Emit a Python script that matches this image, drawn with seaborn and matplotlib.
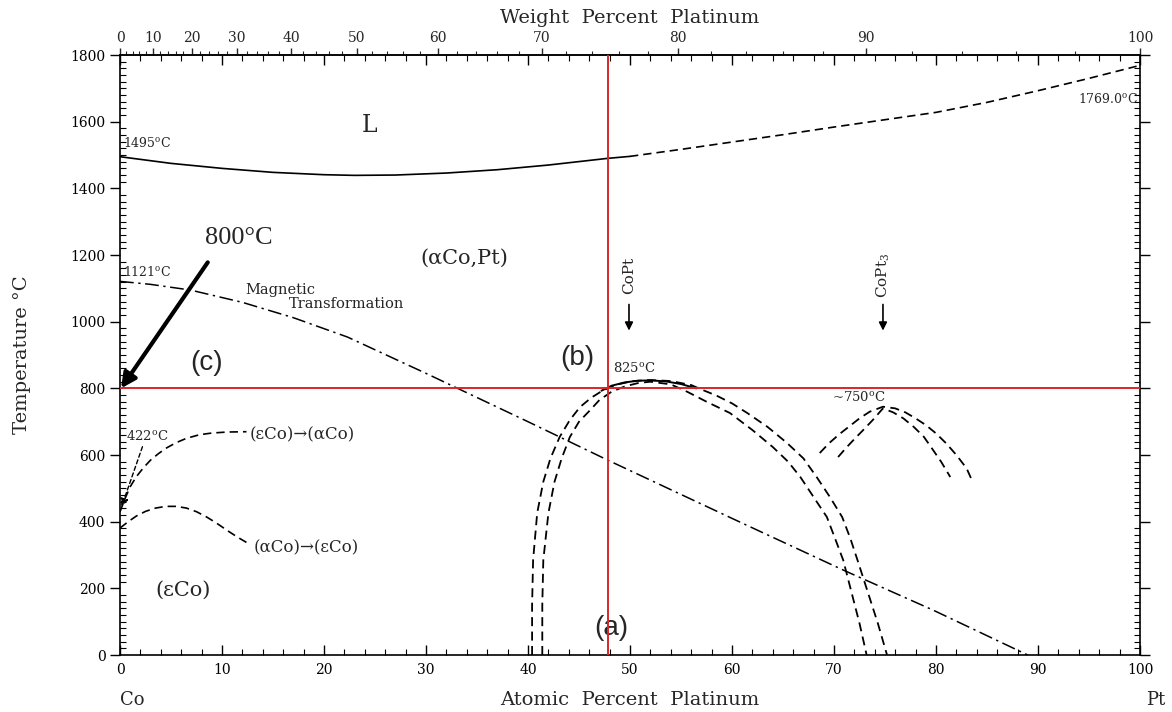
import numpy as np
import pandas as pd
import matplotlib
matplotlib.use("Agg")
import matplotlib.pyplot as plt
from matplotlib.ticker import MultipleLocator
import seaborn as sns

# ---------------- data (atomic % Pt, temperature in C) ----------------
liq_solid_x = [0, 5, 10, 15, 20, 23, 27, 32, 37, 42, 47.8, 50]
liq_solid_t = [1495, 1475, 1460, 1448, 1441, 1439, 1440, 1446, 1456, 1470, 1490, 1496]
liq_dash_x = [50, 55, 60, 65, 70, 75, 80, 85, 90, 95, 100]
liq_dash_t = [1496, 1517, 1539, 1561, 1584, 1606, 1628, 1658, 1693, 1730, 1769]

mag_x = [0, 3, 6.9, 12, 17, 22.3, 30, 40, 47.8, 60, 70.9, 79.7, 89]
mag_t = [1121, 1112, 1095, 1058, 1012, 954, 845, 700, 585, 410, 255, 135, 0]

# CoPt ordering dome, outer and inner boundaries (left foot -> top -> right foot)
dome_out_x = [40.4, 40.4, 40.5, 40.9, 41.5, 42.2, 43.1, 44.1, 45.1, 46.2, 47.4, 48.8, 50.3, 52.0,
              54.0, 56.0, 56.9, 58.5, 60.0, 61.5, 63.5, 65.4, 67.0, 68.3, 69.6, 70.8, 71.6,
              72.3, 73.3, 74.3, 75.2]
dome_out_t = [0, 150, 285, 426, 520, 590, 654, 705, 744, 772, 795, 812, 822, 825,
              822, 810, 798, 778, 755, 726, 684, 636, 590, 534, 474, 414, 350,
              285, 190, 95, 0]
dome_in_x = [41.4, 41.4, 41.5, 42.0, 42.6, 43.3, 44.1, 45.0, 46.1, 47.0, 48.2, 49.5, 50.8, 52.0,
             54.0, 55.6, 57.5, 59.8, 62.0, 64.0, 65.5, 66.7, 68.0, 69.3, 70.1, 70.9,
             71.7, 72.5, 73.2]
dome_in_t = [0, 150, 285, 426, 520, 590, 654, 700, 735, 765, 790, 806, 816, 820,
             812, 790, 760, 726, 675, 624, 580, 534, 474, 414, 350, 285,
             190, 95, 0]
dome_top_x = [47.2, 48.2, 49.5, 50.8, 52.0, 53.5, 55.0, 56.5]
dome_top_t = [793, 808, 818, 823, 824, 821, 813, 800]

# CoPt3 ordering dome
copt3_out_x = [68.6, 69.5, 70.5, 71.5, 72.5, 73.5, 74.8, 76.0, 77.0, 78.0, 79.0, 80.0, 81.0,
               82.0, 83.0, 83.6]
copt3_out_t = [606, 635, 662, 686, 710, 730, 745, 740, 728, 710, 690, 665, 635,
               600, 560, 519]
copt3_in_x = [70.4, 71.2, 72.0, 72.8, 73.8, 74.8, 75.8, 76.8, 77.8, 78.8, 79.6, 80.5, 81.4]
copt3_in_t = [594, 622, 648, 673, 705, 740, 728, 710, 685, 655, 620, 580, 534]

eps_alpha_x = [0, 0.5, 1.0, 1.6, 2.3, 3.0, 3.8, 4.6, 5.5, 6.5, 7.8, 9.0, 10.5, 12.4]
eps_alpha_t = [430, 470, 505, 535, 562, 585, 605, 622, 637, 650, 661, 666, 669, 670]
alpha_eps_x = [0, 0.8, 1.6, 2.5, 3.5, 4.5, 5.5, 6.5, 7.5, 8.5, 9.5, 10.5, 11.5, 12.5]
alpha_eps_t = [381, 400, 417, 431, 441, 446, 446, 441, 430, 414, 395, 374, 354, 336]

red_x = 47.8
red_t = 800

x_ticks = [0, 10, 20, 30, 40, 50, 60, 70, 80, 90, 100]
y_ticks = [0, 200, 400, 600, 800, 1000, 1200, 1400, 1600, 1800]
wt_ticks = [0, 10, 20, 30, 40, 50, 60, 70, 80, 90, 100]

M_CO, M_PT = 58.933, 195.08

# ---------------- figure ----------------
sns.set_theme(style="ticks")
plt.rcParams["font.family"] = ["DejaVu Serif"]
plt.rcParams["mathtext.fontset"] = "dejavuserif"

fig = plt.figure(figsize=(11.72, 7.12), dpi=100)
ax = fig.add_axes([0.1024, 0.080, 0.8703, 0.8427])
ax.set_facecolor("white")
fig.patch.set_facecolor("white")

def line(x, t, **kw):
    df = pd.DataFrame({"x": x, "t": t})
    sns.lineplot(data=df, x="x", y="t", ax=ax, sort=False, estimator=None,
                 color="black", legend=False, **kw)

dash = (5, 3)
line(liq_solid_x, liq_solid_t, lw=1.2)
line(liq_dash_x, liq_dash_t, lw=1.2, linestyle=(0, dash))
line(mag_x, mag_t, lw=1.1, linestyle=(0, (9, 3, 1.5, 3)))
line(dome_out_x, dome_out_t, lw=1.3, linestyle=(0, dash))
line(dome_in_x, dome_in_t, lw=1.3, linestyle=(0, dash))
line(dome_top_x, dome_top_t, lw=1.4)
line(copt3_out_x, copt3_out_t, lw=1.3, linestyle=(0, dash))
line(copt3_in_x, copt3_in_t, lw=1.3, linestyle=(0, dash))
line(eps_alpha_x, eps_alpha_t, lw=1.2, linestyle=(0, dash))
line(alpha_eps_x, alpha_eps_t, lw=1.2, linestyle=(0, dash))

# red guide lines
red = "#d9262a"
ax.axvline(red_x, color=red, lw=1.4, zorder=5)
ax.axhline(red_t, color=red, lw=1.4, zorder=5)

ax.set_xlim(0, 100)
ax.set_ylim(0, 1800)

# ticks
ax.set_xticks(x_ticks)
ax.set_yticks(y_ticks)
ax.xaxis.set_minor_locator(MultipleLocator(2))
ax.yaxis.set_minor_locator(MultipleLocator(20))
ax.tick_params(axis="x", which="both", direction="in", top=True, bottom=True,
               labelsize=10, pad=6, colors="black")
ax.tick_params(axis="x", which="major", length=7, width=1)
ax.tick_params(axis="x", which="minor", length=4, width=0.8)
ax.tick_params(axis="y", which="both", left=True, right=True, labelsize=10,
               colors="black")
ax.tick_params(axis="y", which="major", direction="out", length=7, width=1)
ax.tick_params(axis="y", which="minor", direction="in", length=4, width=0.8)
for s in ax.spines.values():
    s.set_color("black")
    s.set_linewidth(1.2)
ax.set_xlabel("")
ax.set_ylabel("")

def at2wt(a):
    a = np.asarray(a, dtype=float)
    num = a * M_PT
    den = a * M_PT + (100 - a) * M_CO
    return 100 * num / np.where(den == 0, 1e-9, den)

def wt2at(w):
    w = np.asarray(w, dtype=float)
    num = w / M_PT
    den = w / M_PT + (100 - w) / M_CO
    return 100 * num / np.where(den == 0, 1e-9, den)

sec = ax.secondary_xaxis("top", functions=(at2wt, wt2at))
sec.set_xticks(wt_ticks)
sec.xaxis.set_minor_locator(MultipleLocator(2))
sec.tick_params(which="major", direction="out", length=5, width=1, labelsize=10, pad=2)
sec.tick_params(which="minor", direction="out", length=3, width=0.8)
sec.spines["top"].set_linewidth(1.2)
sec.set_xlabel("Weight  Percent  Platinum", fontsize=14, labelpad=6)

# axis labels
ax.text(0.5, -0.075, "Atomic  Percent  Platinum", transform=ax.transAxes,
        ha="center", va="center", fontsize=14)
ax.text(0.012, -0.075, "Co", transform=ax.transAxes, ha="center", va="center", fontsize=13)
ax.text(1.015, -0.075, "Pt", transform=ax.transAxes, ha="center", va="center", fontsize=13)
ax.text(-0.096, 0.5, "Temperature °C", transform=ax.transAxes, rotation=90,
        ha="center", va="center", fontsize=14)

# annotations
ax.text(24.5, 1590, "L", fontsize=17, ha="center", va="center")
ax.text(0.3, 1515, "1495$^{\\rm o}$C", fontsize=9, ha="left", va="bottom")
ax.text(99.8, 1668, "1769.0$^{\\rm o}$C", fontsize=9, ha="right", va="center")
ax.text(33.8, 1190, "(αCo,Pt)", fontsize=15, ha="center", va="center")
ax.text(0.3, 1128, "1121$^{\\rm o}$C", fontsize=9, ha="left", va="bottom")
ax.text(12.3, 1095, "Magnetic", fontsize=10.5, ha="left", va="center")
ax.text(16.6, 1052, "Transformation", fontsize=10.5, ha="left", va="center")
ax.text(0.6, 657, "422$^{\\rm o}$C", fontsize=9.5, ha="left", va="center")
ax.text(12.7, 660, "(εCo)→(αCo)", fontsize=12, ha="left", va="center")
ax.text(13.1, 321, "(αCo)→(εCo)", fontsize=12, ha="left", va="center")
ax.text(6.2, 195, "(εCo)", fontsize=15, ha="center", va="center")
ax.text(48.3, 840, "825$^{\\rm o}$C", fontsize=9.5, ha="left", va="bottom")
ax.text(72.4, 775, "~750$^{\\rm o}$C", fontsize=9.5, ha="center", va="center")

ax.text(11.6, 1252, "800°C", fontsize=19, ha="center", va="center",
        family="Liberation Serif")
for lbl, xx, yy in [("(c)", 8.5, 876), ("(b)", 44.8, 891), ("(a)", 48.2, 81)]:
    ax.text(xx, yy, lbl, fontsize=20, ha="center", va="center", family="Liberation Sans")

ax.text(49.9, 1140, "CoPt", fontsize=11, rotation=90, ha="center", va="center")
ax.text(74.8, 1140, "CoPt$_3$", fontsize=11, rotation=90, ha="center", va="center")
for xx in (49.9, 74.8):
    ax.annotate("", xy=(xx, 965), xytext=(xx, 1060),
                arrowprops=dict(arrowstyle="-|>", color="black", lw=1.2, mutation_scale=12))

# thick arrow for 800 C
ax.annotate("", xy=(0.1, 800), xytext=(8.6, 1178),
            arrowprops=dict(arrowstyle="-|>", color="black", lw=3, mutation_scale=22,
                            shrinkA=0, shrinkB=0))
# leader for 422 C
ax.annotate("", xy=(0.15, 445), xytext=(2.2, 625),
            arrowprops=dict(arrowstyle="-|>", color="black", lw=1.0, linestyle=(0, (3, 2)),
                            mutation_scale=12, shrinkA=0, shrinkB=0))

fig.savefig("out.png", dpi=100, facecolor="white")
